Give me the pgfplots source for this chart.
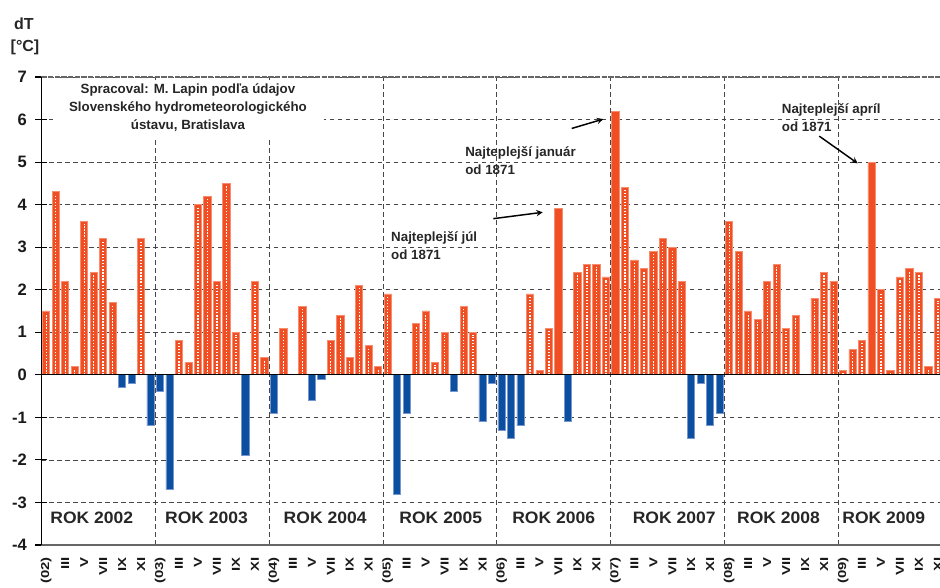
\documentclass[border=0pt]{standalone}
\usepackage{pgfplots}
\pgfplotsset{compat=1.18}
\usepackage{pgfplotstable}
\usepackage{fontspec}
\setmainfont{Liberation Sans}
\newfontfamily\monthfont[FakeStretch=1.3]{Liberation Sans}
\newfontfamily\rokfont[FakeStretch=1.06]{Liberation Sans}
\definecolor{barred}{RGB}{240,78,35}
\definecolor{baredge}{RGB}{246,140,112}
\definecolor{barblue}{RGB}{11,80,160}
\definecolor{blueedge}{RGB}{120,150,205}
\definecolor{gridc}{RGB}{70,70,70}

% positive months (hatched bars); x = month index from Jan 2002
\pgfplotstableread{
x y
0 1.5
1 4.3
2 2.2
3 0.2
4 3.6
5 2.4
6 3.2
7 1.7
10 3.2
14 0.8
15 0.3
16 4.0
17 4.2
18 2.2
19 4.5
20 1.0
22 2.2
23 0.4
25 1.1
27 1.6
30 0.8
31 1.4
32 0.4
33 2.1
34 0.7
35 0.2
36 1.9
39 1.2
40 1.5
41 0.3
42 1.0
44 1.6
45 1.0
51 1.9
52 0.1
53 1.1
56 2.4
57 2.6
58 2.6
59 2.3
61 4.4
62 2.7
63 2.5
64 2.9
65 3.2
66 3.0
67 2.2
72 3.6
73 2.9
74 1.5
75 1.3
76 2.2
77 2.6
78 1.1
79 1.4
81 1.8
82 2.4
83 2.2
84 0.1
85 0.6
86 0.8
88 2.0
89 0.1
90 2.3
91 2.5
92 2.4
93 0.2
94 1.8
}\postab

% record months (solid bars)
\pgfplotstableread{
x y
54 3.9
60 6.2
87 5.0
}\rectab

% negative months
\pgfplotstableread{
x y
8 -0.3
9 -0.2
11 -1.2
12 -0.4
13 -2.7
21 -1.9
24 -0.9
28 -0.6
29 -0.1
37 -2.8
38 -0.9
43 -0.4
46 -1.1
47 -0.2
48 -1.3
49 -1.5
50 -1.2
55 -1.1
68 -1.5
69 -0.2
70 -1.2
71 -0.9
}\negtab

\begin{document}
\begin{tikzpicture}
\begin{axis}[
  scale only axis, width=673.875pt, height=351pt,
  xmin=-0.5, xmax=94.22, ymin=-4, ymax=7,
  axis line style={draw=none},
  clip=false,
  ytick={-4,...,7},
  yticklabels={-4,-3,-2,-1,0,1,2,3,4,5,6,7},
  ytick pos=left, tick align=center, major tick length=9pt,
  ytick style={black, line width=0.8pt},
  yticklabel style={font=\bfseries\fontsize{12.4}{14}\selectfont, xshift=-3pt, text=black!90},
  xtick={0,2,...,94},
  xticklabels={(02),III,V,VII,IX,XI,(03),III,V,VII,IX,XI,(04),III,V,VII,IX,XI,(05),III,V,VII,IX,XI,(06),III,V,VII,IX,XI,(07),III,V,VII,IX,XI,(08),III,V,VII,IX,XI,(09),III,V,VII,IX,XI},
  xtick style={draw=none},
  xticklabel style={rotate=90, anchor=east, inner xsep=4.5pt, text=black!90, font=\monthfont\bfseries\fontsize{8.6}{10}\selectfont},
  ymajorgrids,
  extra x ticks={11.5,23.5,35.5,47.5,59.5,71.5,83.5},
  extra x tick labels={},
  extra x tick style={grid=major},
  grid style={gridc, line width=0.6pt, dash pattern=on 3.5pt off 2.5pt},
]
\fill[white] (axis cs:0.71,5.55) rectangle (axis cs:29.28,6.93);
\addplot[ybar, bar width=0.76, bar shift=0pt, fill=barred, draw=baredge, line width=0.6pt] table[x=x,y=y]{\postab};
\addplot[ycomb, white, line width=1pt, dash pattern=on 1pt off 1.3pt] table[x=x, y expr=\thisrow{y}-0.06]{\postab};
\addplot[ybar, bar width=0.76, bar shift=0pt, fill=barred, draw=baredge, line width=0.6pt] table[x=x,y=y]{\rectab};
\addplot[ybar, bar width=0.76, bar shift=0pt, fill=barblue, draw=blueedge, line width=0.6pt] table[x=x,y=y]{\negtab};

\draw[black, line width=0.9pt] (axis cs:-0.5,0) -- (axis cs:94.22,0);
\draw[black!60, line width=1.5pt] (axis cs:-0.6,-4) -- (axis cs:94.22,-4);
\draw[black!60, line width=1.5pt, dash pattern=on 4pt off 1pt] (axis cs:-0.5,7) -- (axis cs:94.22,7);
\draw[black, line width=1.2pt] (axis cs:-0.5,-4) -- (axis cs:-0.5,7);

\node[align=center, font=\bfseries\fontsize{10}{13.5}\selectfont, text=black!85] at (axis cs:14.94,6.28)
  {Spracoval: M. Lapin podľa údajov\\Slovenského hydrometeorologického\\ústavu, Bratislava};

\node[font=\rokfont\bfseries\fontsize{12.4}{14}\selectfont, text=black!85] at (axis cs:4.8,-3.37) {ROK 2002};
\node[font=\rokfont\bfseries\fontsize{12.4}{14}\selectfont, text=black!85] at (axis cs:16.9,-3.37) {ROK 2003};
\node[font=\rokfont\bfseries\fontsize{12.4}{14}\selectfont, text=black!85] at (axis cs:29.4,-3.37) {ROK 2004};
\node[font=\rokfont\bfseries\fontsize{12.4}{14}\selectfont, text=black!85] at (axis cs:41.6,-3.37) {ROK 2005};
\node[font=\rokfont\bfseries\fontsize{12.4}{14}\selectfont, text=black!85] at (axis cs:53.5,-3.37) {ROK 2006};
\node[font=\rokfont\bfseries\fontsize{12.4}{14}\selectfont, text=black!85] at (axis cs:66.2,-3.37) {ROK 2007};
\node[font=\rokfont\bfseries\fontsize{12.4}{14}\selectfont, text=black!85] at (axis cs:77.2,-3.37) {ROK 2008};
\node[font=\rokfont\bfseries\fontsize{12.4}{14}\selectfont, text=black!85] at (axis cs:88.3,-3.37) {ROK 2009};

\node[anchor=west, inner sep=0pt, align=left, font=\bfseries\fontsize{10}{13.5}\selectfont, text=black!85] at (axis cs:36.34,3.03) {Najteplejší júl\\od 1871};
\node[anchor=west, inner sep=0pt, align=left, font=\bfseries\fontsize{10}{13.5}\selectfont, text=black!85] at (axis cs:44.15,5.03) {Najteplejší január\\od 1871};
\node[anchor=west, inner sep=0pt, align=left, font=\bfseries\fontsize{10}{13.5}\selectfont, text=black!85] at (axis cs:77.53,6.05) {Najteplejší apríl\\od 1871};

\draw[-stealth, black, line width=1.1pt] (axis cs:47.13,3.67) -- (axis cs:52.34,3.82);
\draw[-stealth, black, line width=1.1pt] (axis cs:55.39,5.79) -- (axis cs:58.72,6.01);
\draw[-stealth, black, line width=1.1pt] (axis cs:81.49,5.61) -- (axis cs:85.54,4.97);

\node[font=\bfseries\fontsize{12}{13}\selectfont, text=black!85] at (axis cs:-2.35,8.26) {dT};
\node[font=\bfseries\fontsize{12}{13}\selectfont, text=black!85] at (axis cs:-2.24,7.69) {[°C]};
\end{axis}
\pgfresetboundingbox
\useasboundingbox (-31.125pt,-32.25pt) rectangle (673.875pt,408.75pt);
\end{tikzpicture}
\end{document}
